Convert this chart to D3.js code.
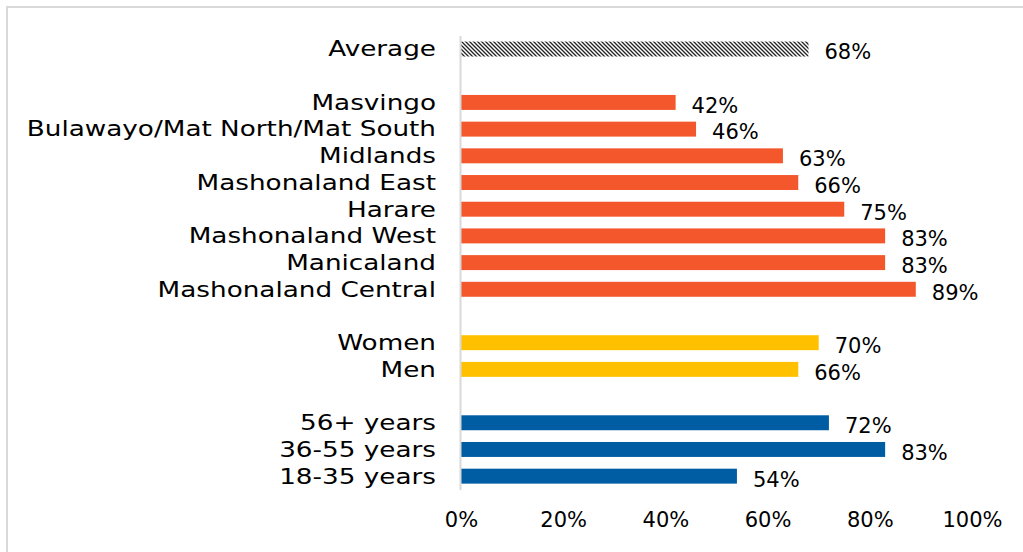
<!DOCTYPE html>
<html>
<head>
<meta charset="utf-8">
<script src="https://cdn.jsdelivr.net/npm/d3@7"></script>
<style>
  html, body { margin: 0; padding: 0; background: #fff; }
  svg { display: block; }
  text { font-family: "DejaVu Sans", sans-serif; fill: #000; }
</style>
</head>
<body>
<script>
// rows top to bottom, blank keys are spacer rows
const categories = ["Average", "gap1",
  "Masvingo", "Bulawayo/Mat North/Mat South", "Midlands", "Mashonaland East",
  "Harare", "Mashonaland West", "Manicaland", "Mashonaland Central", "gap2",
  "Women", "Men", "gap3",
  "56+ years", "36-55 years", "18-35 years"];
const values = [68, null,
  42, 46, 63, 66, 75, 83, 83, 89, null,
  70, 66, null,
  72, 83, 54];
const groups = ["avg", null,
  "region", "region", "region", "region", "region", "region", "region", "region", null,
  "gender", "gender", null,
  "age", "age", "age"];
const tickValues = [0, 20, 40, 60, 80, 100];

const W = 1023, H = 552;
const colors = { avg: "url(#hatch)", region: "#F4572B", gender: "#FFC000", age: "#005DA3" };

const svg = d3.select("body").append("svg").attr("width", W).attr("height", H);

const defs = svg.append("defs");
const pat = defs.append("pattern").attr("id", "hatch")
  .attr("patternUnits", "userSpaceOnUse").attr("width", 4).attr("height", 4);
pat.append("rect").attr("width", 4).attr("height", 4).attr("fill", "#fff");
pat.append("path").attr("d", "M-1,-1 L5,5 M-1,3 L1,5 M3,-1 L5,1")
  .attr("stroke", "#222").attr("stroke-width", 1.3);

// chart frame (runs off the right and bottom edge)
svg.append("rect").attr("x", 7).attr("y", 7).attr("width", W).attr("height", H)
  .attr("fill", "none").attr("stroke", "#d9d9d9").attr("stroke-width", 2);

const x = d3.scaleLinear().domain([0, 100]).range([461, 972]);
const y = d3.scaleBand().domain(categories).range([35.7, 489.5]).paddingInner(0.44).paddingOuter(0.22);

const rows = categories.map((c, i) => ({ name: c, value: values[i], group: groups[i] }))
  .filter(d => d.value != null);

svg.append("g").selectAll("rect").data(rows).join("rect")
  .attr("x", x(0))
  .attr("y", d => y(d.name))
  .attr("width", d => x(d.value) - x(0))
  .attr("height", y.bandwidth())
  .attr("fill", d => colors[d.group]);

// category axis line
svg.append("line").attr("x1", 460.5).attr("x2", 460.5)
  .attr("y1", 36).attr("y2", 490)
  .attr("stroke", "#d9d9d9").attr("stroke-width", 2);

// category labels, stretched sideways to mimic the wide original face
svg.append("g").selectAll("text").data(rows).join("text")
  .attr("transform", d => `translate(436,${y(d.name) + y.bandwidth() / 2}) scale(1.25,1)`)
  .attr("dy", "0.35em")
  .attr("text-anchor", "end")
  .style("font-size", "21px")
  .text(d => d.name);

// value labels
svg.append("g").selectAll("text").data(rows).join("text")
  .attr("x", d => x(d.value) + 16)
  .attr("y", d => y(d.name) + y.bandwidth() / 2 + 3)
  .attr("dy", "0.35em")
  .style("font-size", "21px")
  .text(d => d.value + "%");

// value axis (labels only)
const xAxis = svg.append("g").attr("transform", "translate(0,512)")
  .call(d3.axisBottom(x).tickValues(tickValues).tickFormat(d => d + "%").tickSize(0).tickPadding(0));
xAxis.select(".domain").remove();
xAxis.selectAll("text").style("font-size", "21px").style("font-family", "DejaVu Sans, sans-serif").attr("fill", "#000");
</script>
</body>
</html>
